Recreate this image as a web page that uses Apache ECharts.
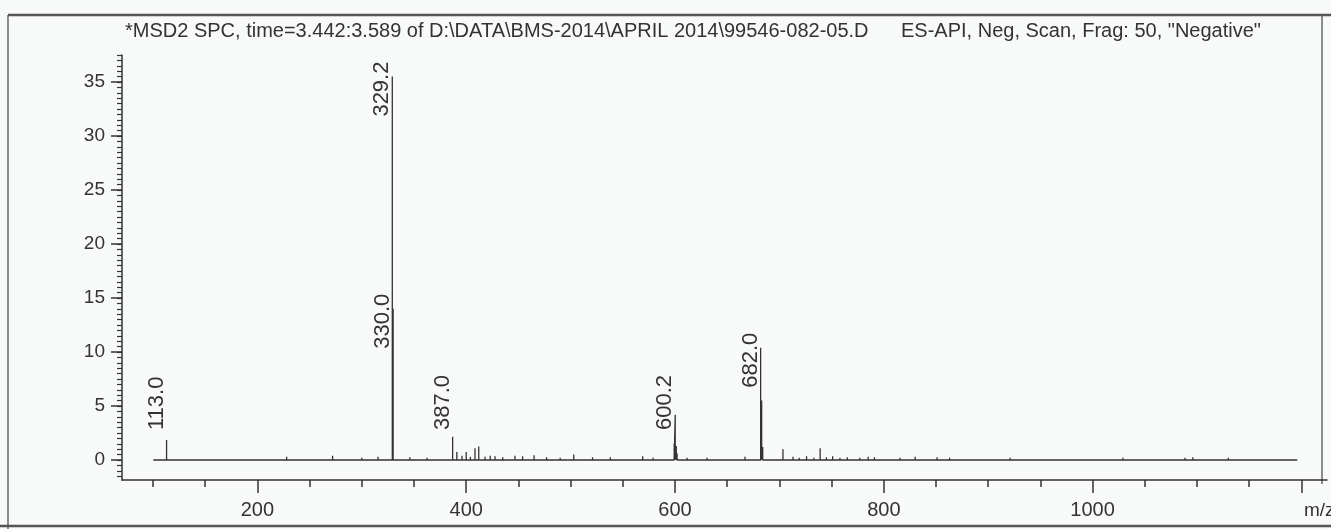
<!DOCTYPE html>
<html>
<head>
<meta charset="utf-8">
<script src="https://cdn.jsdelivr.net/npm/echarts@6/dist/echarts.min.js"></script>
<style>
  html, body {margin: 0; padding: 0; background: #f8f9f9;}
  #spectrum {width: 1331px; height: 529px;}
</style>
</head>
<body>
<div id="spectrum"></div>
<script>
// m/z range of the scan (baseline start / end)
const scanRange = [100.3, 1196];

// stick spectrum: m/z and abundance
const peakMz = [
  113.0, 125, 140, 152, 168, 183, 198, 212, 228, 244, 258, 272, 286, 300, 315.5, 322,
  329.2, 330.0, 339, 346, 354, 362.5, 372, 380,
  387.0, 391, 396, 400, 404, 408.4, 412, 418, 423, 427.6, 435, 440, 446.7, 454, 459,
  465, 471, 477, 484, 490, 496, 503, 510, 521, 530, 538, 546, 555, 562, 569, 579, 586, 592,
  599.2, 600.2, 601.2, 602, 611.5, 620, 630.6, 640, 652.7, 660, 667, 675,
  682.0, 683.0, 684, 692, 703.4, 713, 719, 726, 733, 739, 745, 751, 758, 765, 777,
  785, 791, 800, 808, 815.5, 823, 830, 838, 845, 851, 857, 863, 872, 880, 885, 893,
  902, 910, 921, 930, 938, 946, 956, 965, 974, 982, 991, 1000, 1010, 1020, 1029,
  1040, 1052, 1063, 1075, 1088.5, 1096, 1105, 1115, 1124, 1130
];
const peakAbund = [
  1.85, 0.15, 0.12, 0.15, 0.12, 0.15, 0.12, 0.15, 0.3, 0.15, 0.15, 0.4, 0.15, 0.2, 0.3, 0.15,
  35.5, 14.0, 0.1, 0.25, 0.1, 0.2, 0.12, 0.15,
  2.15, 0.75, 0.4, 0.75, 0.3, 1.1, 1.25, 0.3, 0.4, 0.35, 0.25, 0.15, 0.4, 0.35, 0.15,
  0.45, 0.15, 0.25, 0.15, 0.2, 0.12, 0.5, 0.12, 0.25, 0.12, 0.25, 0.12, 0.1, 0.15, 0.35, 0.2, 0.15, 0.15,
  1.5, 4.2, 1.3, 0.6, 0.2, 0.12, 0.2, 0.12, 0.15, 0.12, 0.3, 0.12,
  10.4, 5.5, 1.2, 0.15, 1.0, 0.3, 0.2, 0.35, 0.2, 1.1, 0.25, 0.35, 0.2, 0.25, 0.2,
  0.3, 0.25, 0.15, 0.15, 0.2, 0.15, 0.3, 0.15, 0.15, 0.25, 0.15, 0.2, 0.15, 0.15, 0.15, 0.12,
  0.15, 0.15, 0.2, 0.15, 0.15, 0.15, 0.15, 0.15, 0.15, 0.12, 0.15, 0.15, 0.12, 0.12, 0.2,
  0.1, 0.1, 0.12, 0.15, 0.2, 0.25, 0.12, 0.15, 0.12, 0.2
];

// annotated peaks
const labelMz = [113.0, 329.2, 330.0, 387.0, 600.2, 682.0];
const labelAbund = [1.85, 35.5, 14.0, 2.15, 4.2, 10.4];

// axis ticks / labels
const xMajorTicks = [200, 400, 600, 800, 1000, 1200];
const xLabels = [200, 400, 600, 800, 1000];
const xMinorTicks = [];
for (let v = 100; v <= 1200; v += 50) xMinorTicks.push(v);
const yMajorTicks = [0, 5, 10, 15, 20, 25, 30, 35];
const yMinorTicks = [];
for (let v = -1.5; v <= 37.5; v += 0.5) yMinorTicks.push(v);

const titleLeft = '*MSD2 SPC, time=3.442:3.589 of D:\\DATA\\BMS-2014\\APRIL 2014\\99546-082-05.D';
const titleRight = 'ES-API, Neg, Scan, Frag: 50, "Negative"';

const ink = '#333333';
const fontFamily = '"Liberation Sans", Arial, sans-serif';

// build stick path: baseline with a vertical line at every peak
let sticks = [[scanRange[0], 0]];
peakMz.forEach((m, i) => {
  sticks.push([m, 0], [m, peakAbund[i]], [m, 0]);
});
sticks.push([scanRange[1], 0]);

const xRange = {min: 70.3, max: 1224.5};
const yRange = {min: -1.85, max: 37.5};

let option = {
  backgroundColor: '#f8f9f9',
  animation: false,
  grid: {left: 122, right: 4, top: 55, bottom: 49},
  xAxis: [
    {
      type: 'value', min: xRange.min, max: xRange.max,
      axisLine: {show: true, onZero: false, lineStyle: {color: ink, width: 1.5}},
      axisTick: {show: true, customValues: xMajorTicks, length: 13, lineStyle: {color: ink, width: 1.5}},
      axisLabel: {
        customValues: xLabels, color: ink, fontSize: 20, fontFamily: fontFamily, margin: 20,
        formatter: function (value) {
          return String(value);
        }
      },
      splitLine: {show: false}
    },
    {
      type: 'value', min: xRange.min, max: xRange.max, position: 'bottom',
      axisLine: {show: false, onZero: false},
      axisTick: {show: true, customValues: xMinorTicks, length: 7, lineStyle: {color: ink, width: 1.5}},
      axisLabel: {show: false},
      splitLine: {show: false}
    }
  ],
  yAxis: [
    {
      type: 'value', min: yRange.min, max: yRange.max,
      axisLine: {show: true, onZero: false, lineStyle: {color: ink, width: 1.5}},
      axisTick: {show: true, customValues: yMajorTicks, length: 11, lineStyle: {color: ink, width: 1.5}},
      axisLabel: {customValues: yMajorTicks, color: ink, fontSize: 19, fontFamily: fontFamily, margin: 17},
      splitLine: {show: false}
    },
    {
      type: 'value', min: yRange.min, max: yRange.max, position: 'left',
      axisLine: {show: false, onZero: false},
      axisTick: {show: true, customValues: yMinorTicks, length: 5, lineStyle: {color: ink, width: 1.2}},
      axisLabel: {show: false},
      splitLine: {show: false}
    }
  ],
  series: [
    {
      type: 'line',
      data: sticks,
      symbol: 'none',
      lineStyle: {color: ink, width: 1.3},
      silent: true
    },
    {
      type: 'custom',
      data: labelMz.map((m, i) => [m, labelAbund[i]]),
      renderItem: function (params, api) {
        let top = api.coord([api.value(0), api.value(1)]);
        let base = api.coord([api.value(0), 0]);
        let bottom = Math.min(top[1] + 40, base[1] - 30);
        return {
          type: 'text',
          x: top[0] + 1,
          y: bottom,
          rotation: Math.PI / 2,
          style: {
            text: api.value(0).toFixed(1),
            fill: ink,
            font: '22px ' + fontFamily,
            align: 'left',
            verticalAlign: 'bottom'
          }
        };
      }
    }
  ],
  graphic: [
    {type: 'line', shape: {x1: 8, y1: 15, x2: 1331, y2: 15}, style: {stroke: '#555', lineWidth: 2.5}},
    {type: 'line', shape: {x1: 8, y1: 15, x2: 8, y2: 529}, style: {stroke: '#666', lineWidth: 1.5}},
    {type: 'line', shape: {x1: 1322, y1: 15, x2: 1322, y2: 484}, style: {stroke: '#666', lineWidth: 1.5}},
    {type: 'line', shape: {x1: 0, y1: 526, x2: 1331, y2: 526}, style: {stroke: '#555', lineWidth: 2.5}},
    {type: 'text', x: 125, y: 31, style: {text: titleLeft, fill: ink, font: '20px ' + fontFamily, verticalAlign: 'middle'}},
    {type: 'text', x: 901, y: 31, style: {text: titleRight, fill: ink, font: '20px ' + fontFamily, verticalAlign: 'middle'}},
    {type: 'text', x: 1304, y: 511, style: {text: 'm/z', fill: ink, font: '19px ' + fontFamily, verticalAlign: 'middle'}}
  ]
};

let chart = echarts.init(document.getElementById('spectrum'));
chart.setOption(option);
</script>
</body>
</html>
